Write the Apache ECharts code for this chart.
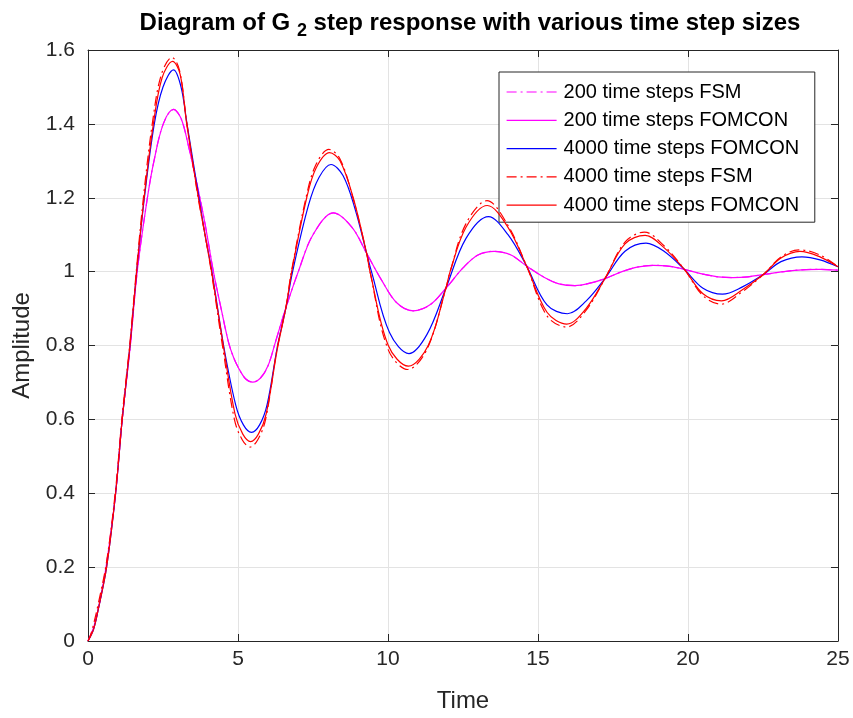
<!DOCTYPE html>
<html>
<head>
<meta charset="utf-8">
<script src="https://cdn.jsdelivr.net/npm/echarts@6/dist/echarts.min.js"></script>
<style>html,body{margin:0;padding:0;background:#fff;}#c{width:853px;height:718px;}</style>
</head>
<body>
<div id="c"></div>
<script>
// Series names (legend order)
const seriesNames = [
  '200 time steps FSM',
  '200 time steps FOMCON',
  '4000 time steps FOMCON',
  '4000 time steps FSM',
  '4000 time steps FOMCON '
];
// x ticks / y ticks
const xTicks = [0, 5, 10, 15, 20, 25];
const yTicks = [0, 0.2, 0.4, 0.6, 0.8, 1, 1.2, 1.4, 1.6];

// [time, amplitude]
const fsm200 = [
  [0,0],[0.2,0.04],[0.4,0.11],[0.62,0.21],[0.92,0.4],[1.14,0.6],[1.41,0.8],[1.64,1.0],[1.98,1.2],[2.2,1.3],[2.51,1.4],[2.85,1.439],
  [3.1,1.415],[3.35,1.34],[3.65,1.23],[3.9,1.13],[4.18,1.0],[4.45,0.895],[4.68,0.81],[4.85,0.768],[5.0,0.742],[5.25,0.71],[5.49,0.701],[5.75,0.712],[6.0,0.745],[6.25,0.81],[6.6,0.903],
  [7.01,1.0],[7.5,1.1],[8.18,1.159],[8.8,1.12],[9.29,1.049],[9.8,0.975],[10.3,0.915],[10.84,0.894],[11.4,0.91],[11.93,0.955],
  [12.5,1.01],[13.0,1.045],[13.54,1.055],[14.1,1.045],[14.62,1.015],[15.2,0.985],[15.7,0.967],[16.23,0.962],[16.8,0.97],
  [17.23,0.981],[17.8,1.0],[18.3,1.012],[18.85,1.017],[19.4,1.014],[19.88,1.006],[20.5,0.993],[21.0,0.986],[21.5,0.984],
  [22.0,0.986],[22.51,0.992],[23.2,1.0],[23.8,1.005],[24.4,1.006],[25,1.004]
];
const fomcon200 = [
  [0,0],[0.2,0.04],[0.4,0.11],[0.62,0.21],[0.92,0.4],[1.14,0.6],[1.41,0.8],[1.64,1.0],[1.98,1.2],[2.2,1.3],[2.51,1.4],[2.85,1.439],
  [3.1,1.415],[3.35,1.34],[3.65,1.23],[3.9,1.13],[4.18,1.0],[4.45,0.895],[4.68,0.81],[4.85,0.768],[5.0,0.742],[5.25,0.71],[5.49,0.701],[5.75,0.712],[6.0,0.745],[6.25,0.81],[6.6,0.903],
  [7.01,1.0],[7.5,1.1],[8.18,1.159],[8.8,1.12],[9.29,1.049],[9.8,0.975],[10.3,0.915],[10.84,0.894],[11.4,0.91],[11.93,0.955],
  [12.5,1.01],[13.0,1.045],[13.54,1.055],[14.1,1.045],[14.62,1.015],[15.2,0.985],[15.7,0.967],[16.23,0.962],[16.8,0.97],
  [17.23,0.981],[17.8,1.0],[18.3,1.012],[18.85,1.017],[19.4,1.014],[19.88,1.006],[20.5,0.993],[21.0,0.986],[21.5,0.984],
  [22.0,0.986],[22.51,0.992],[23.2,1.0],[23.8,1.005],[24.4,1.006],[25,1.004]
];
const fomcon4000b = [
  [0,0],[0.18,0.03],[0.34,0.085],[0.62,0.2],[0.92,0.4],[1.14,0.6],[1.4,0.8],[1.62,1.0],[1.88,1.2],[2.21,1.4],[2.5,1.5],[2.85,1.546],
  [3.1,1.5],[3.3,1.4],[3.7,1.2],[3.9,1.1],[4.13,1.0],[4.52,0.8],[4.92,0.64],[5.18,0.585],[5.45,0.565],[5.72,0.585],[5.97,0.64],[6.32,0.8],[6.6,0.903],
  [6.82,1.0],[7.35,1.18],[7.7,1.255],[8.1,1.29],[8.5,1.26],[8.9,1.17],[9.29,1.049],[9.45,1.0],[10.05,0.835],[10.7,0.778],
  [11.3,0.83],[11.93,0.955],[12.6,1.09],[13.35,1.149],[14.0,1.1],[14.62,1.015],[15.3,0.91],[15.98,0.886],[16.6,0.92],
  [17.23,0.981],[17.9,1.055],[18.6,1.077],[19.2,1.055],[19.88,1.006],[20.5,0.955],[21.15,0.939],[21.8,0.958],[22.51,0.992],
  [23.1,1.027],[23.8,1.04],[24.4,1.032],[25,1.013]
];
const fsm4000 = [
  [0,0],[0.1,0.02],[0.2,0.05],[0.34,0.1],[0.62,0.215],[0.92,0.41],[1.14,0.61],[1.4,0.81],[1.62,1.01],[1.86,1.21],[2.16,1.41],
  [2.45,1.535],[2.8,1.58],[3.05,1.545],[3.28,1.41],[3.67,1.2],[3.9,1.1],[4.11,1.0],[4.5,0.79],[4.88,0.6],[5.14,0.545],[5.4,0.525],[5.66,0.545],[5.92,0.6],
  [6.3,0.79],[6.6,0.905],[6.78,1.0],[7.28,1.205],[7.6,1.29],[8.03,1.331],[8.4,1.305],[8.83,1.2],[9.29,1.049],[9.4,1.0],
  [10.0,0.79],[10.66,0.735],[11.3,0.79],[11.93,0.955],[12.07,1.0],[12.6,1.13],[13.3,1.192],[14.0,1.125],[14.62,1.015],
  [15.3,0.88],[15.95,0.85],[16.6,0.895],[17.23,0.981],[17.9,1.08],[18.55,1.107],[19.2,1.07],[19.88,1.006],[20.5,0.935],
  [21.1,0.912],[21.8,0.945],[22.51,0.992],[23.1,1.04],[23.7,1.059],[24.4,1.045],[25,1.013]
];
const fomcon4000r = [
  [0,0],[0.18,0.03],[0.34,0.085],[0.62,0.2],[0.92,0.4],[1.14,0.6],[1.4,0.8],[1.62,1.0],[1.87,1.2],[2.18,1.4],[2.47,1.525],[2.82,1.569],
  [3.07,1.535],[3.29,1.4],[3.68,1.2],[3.9,1.1],[4.12,1.0],[4.51,0.8],[4.9,0.615],[5.16,0.56],[5.42,0.54],[5.68,0.56],[5.94,0.615],[6.31,0.79],[6.6,0.904],
  [6.79,1.0],[7.29,1.2],[7.6,1.28],[8.05,1.322],[8.4,1.3],[8.84,1.2],[9.29,1.049],[9.4,1.0],[10.01,0.8],[10.68,0.744],
  [11.34,0.8],[11.93,0.955],[12.07,1.0],[12.6,1.12],[13.31,1.179],[14.0,1.12],[14.62,1.015],[15.3,0.89],[15.96,0.858],
  [16.6,0.9],[17.23,0.981],[17.9,1.075],[18.57,1.098],[19.2,1.065],[19.88,1.006],[20.5,0.94],[21.12,0.921],[21.8,0.95],
  [22.51,0.992],[23.1,1.037],[23.73,1.055],[24.4,1.04],[25,1.013]
];

const seriesData = [fsm200, fomcon200, fomcon4000b, fsm4000, fomcon4000r];
const seriesColors = ['#ff00ff', '#ff00ff', '#0000ff', '#ff0000', '#ff0000'];
const seriesDash = [[10,4,2,4], 'solid', 'solid', [10,4,2,4], 'solid'];

const AX = '#262626';
const FONT = '"Liberation Sans", Arial, Helvetica, sans-serif';
const chart = echarts.init(document.getElementById('c'), null, {renderer: 'canvas'});

const gridLine = {show: true, lineStyle: {color: '#e3e3e3', width: 1}};
const option = {
  backgroundColor: '#ffffff',
  animation: false,
  title: {
    text: 'Diagram of G {sub|2} step response with various time step sizes',
    left: 465, top: 1, textAlign: 'center',
    textStyle: {
      fontFamily: FONT, fontSize: 24, fontWeight: 'bold', color: '#000',
      rich: {sub: {fontFamily: FONT, fontSize: 18, fontWeight: 'bold', color: '#000', verticalAlign: 'bottom', padding: [16, 0, 0, 0]}}
    }
  },
  legend: {
    orient: 'vertical', left: 499, top: 72,
    data: seriesNames,
    itemWidth: 50, itemHeight: 14, itemGap: 8.3,
    padding: [10, 10, 7, 7],
    backgroundColor: '#fff', borderColor: AX, borderWidth: 1, borderRadius: 0,
    textStyle: {fontFamily: FONT, fontSize: 20, lineHeight: 20, color: '#000', padding: [0,0,0,2]},
    itemStyle: {opacity: 0},
    lineStyle: {width: 1.2}
  },
  grid: {left: 88, right: 15, top: 50, bottom: 73, containLabel: false},
  xAxis: [{
    type: 'value', min: 0, max: 25, interval: 5,
    name: 'Time', nameLocation: 'middle', nameGap: 48,
    nameTextStyle: {fontFamily: FONT, fontSize: 24, color: AX},
    axisLine: {show: true, onZero: false, lineStyle: {color: AX, width: 1}},
    axisTick: {show: true, inside: true, length: 7, lineStyle: {color: AX}},
    axisLabel: {fontFamily: FONT, fontSize: 21, color: AX, margin: 8},
    splitLine: gridLine
  }, {
    type: 'value', position: 'top', min: 0, max: 25, interval: 5,
    axisLine: {show: true, onZero: false, lineStyle: {color: AX, width: 1}},
    axisTick: {show: true, inside: true, length: 7, lineStyle: {color: AX}},
    axisLabel: {show: false}, splitLine: {show: false}
  }],
  yAxis: [{
    type: 'value', min: 0, max: 1.6, interval: 0.2,
    name: 'Amplitude', nameLocation: 'middle', nameGap: 54, nameRotate: 90,
    nameTextStyle: {fontFamily: FONT, fontSize: 24, color: AX},
    axisLine: {show: true, onZero: false, lineStyle: {color: AX, width: 1}},
    axisTick: {show: true, inside: true, length: 7, lineStyle: {color: AX}},
    axisLabel: {fontFamily: FONT, fontSize: 21, color: AX, margin: 13,
      formatter: v => String(Math.round(v * 10) / 10)},
    splitLine: gridLine
  }, {
    type: 'value', position: 'right', min: 0, max: 1.6, interval: 0.2,
    axisLine: {show: true, onZero: false, lineStyle: {color: AX, width: 1}},
    axisTick: {show: true, inside: true, length: 7, lineStyle: {color: AX}},
    axisLabel: {show: false}, splitLine: {show: false}
  }],
  series: seriesData.map((d, i) => ({
    name: seriesNames[i],
    type: 'line',
    data: d,
    xAxisIndex: 0, yAxisIndex: 0,
    showSymbol: false, symbol: 'none',
    smooth: 0.35,
    lineStyle: {color: seriesColors[i], width: 1.2, type: seriesDash[i]},
    itemStyle: {color: seriesColors[i]},
    z: 2 + i
  }))
};
chart.setOption(option);
</script>
</body>
</html>
